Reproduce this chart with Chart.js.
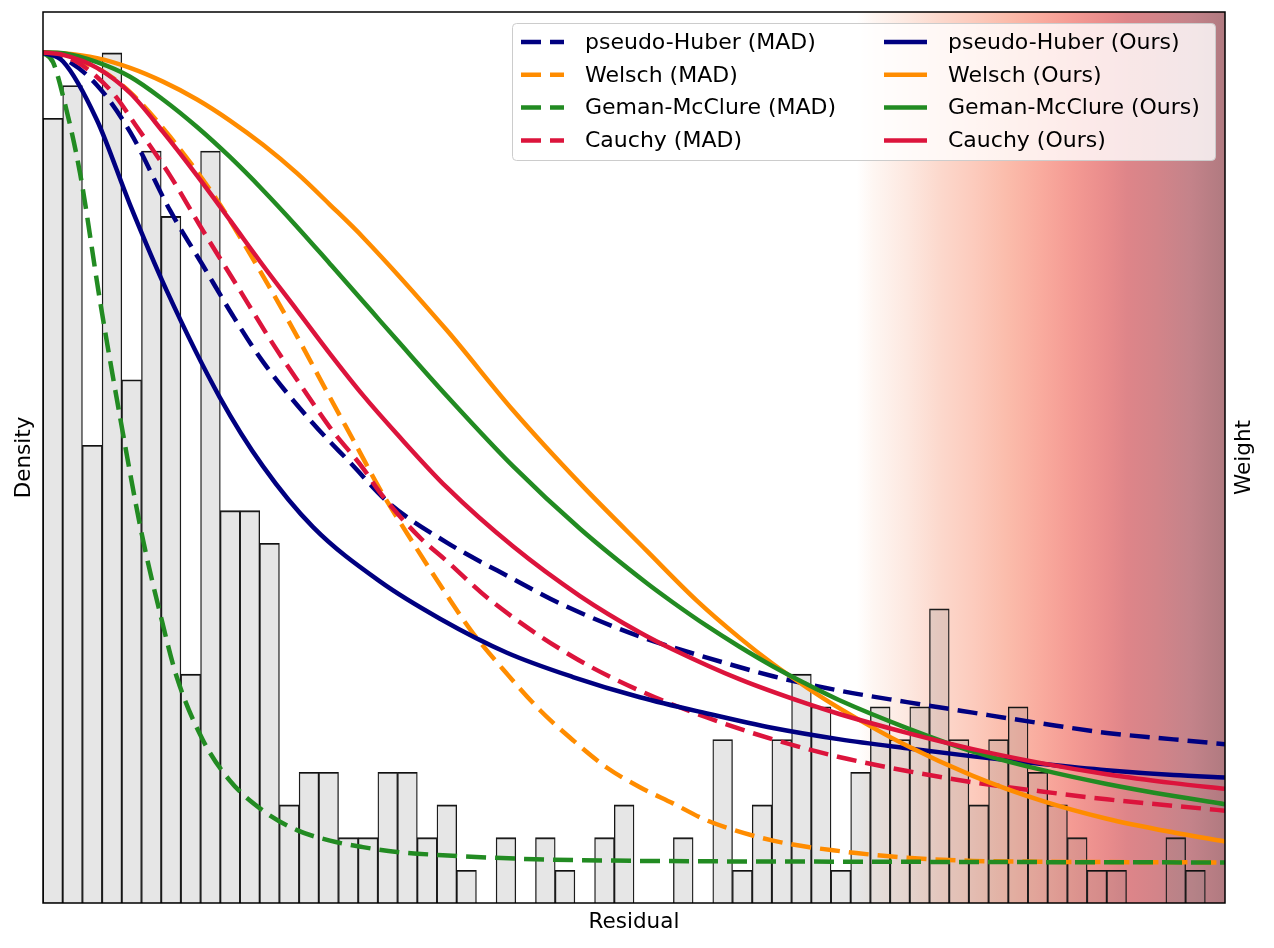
<!DOCTYPE html>
<html>
<head>
<meta charset="utf-8">
<title>Residual weights</title>
<script src="https://cdn.jsdelivr.net/npm/chart.js@4.4.1/dist/chart.umd.min.js"></script>
<style>
  html, body { margin: 0; padding: 0; background: #fff; }
  canvas { display: block; }
</style>
</head>
<body>
<canvas id="weightChart" width="1274" height="948"></canvas>
<script>
// ----------- Histogram: counts per residual bin (60 bins) -----------
const binCounts = [
  24, 25, 14, 26, 16, 23, 21, 7, 23, 12,
  12, 11, 3, 4, 4, 2, 2, 4, 4, 2,
  3, 1, 0, 2, 0, 2, 1, 0, 2, 3,
  0, 0, 2, 0, 5, 1, 3, 5, 7, 6,
  1, 4, 6, 5, 6, 9, 5, 3, 5, 6,
  4, 3, 2, 1, 1, 0, 0, 2, 1, 0
];

// ----------- Weight curves (residual in bin units, weight) -----------
const phMadR = [0, 1.02, 2.73, 4.42, 6.45, 8.12, 9.64, 11.17, 13.71, 15.58, 17.6, 20.5, 23.87, 26.4, 30.3, 33.7, 37.06, 40.46, 43.86, 47.2, 50.6, 54, 57.4, 60];
const phMadW = [1, 0.993, 0.96, 0.902, 0.805, 0.737, 0.675, 0.618, 0.542, 0.494, 0.443, 0.395, 0.35, 0.318, 0.279, 0.253, 0.23, 0.212, 0.198, 0.185, 0.172, 0.16, 0.152, 0.146];

const wMadR = [0, 2.73, 4.42, 6.45, 8.83, 10.15, 11.88, 13.2, 14.57, 15.94, 17.1, 18.8, 20.5, 21.83, 23.55, 25.23, 26.9, 28.63, 30.3, 31.98, 33.7, 37.06, 40.46, 43.86, 47.2, 50.6, 60];
const wMadW = [1, 0.981, 0.951, 0.896, 0.818, 0.766, 0.694, 0.636, 0.574, 0.513, 0.461, 0.394, 0.33, 0.283, 0.233, 0.188, 0.151, 0.117, 0.093, 0.073, 0.052, 0.027, 0.014, 0.006, 0.002, 0.001, 0];

const gmMadR = [0, 0.51, 1.03, 1.88, 2.89, 3.91, 5.01, 6.03, 6.79, 8.12, 9.49, 11.17, 12.89, 14.57, 16.24, 17.97, 20.3, 25, 30.3, 41.3, 60];
const gmMadW = [1, 0.988, 0.945, 0.851, 0.694, 0.55, 0.406, 0.299, 0.229, 0.151, 0.101, 0.064, 0.04, 0.027, 0.019, 0.013, 0.009, 0.004, 0.002, 0.001, 0];

const cMadR = [0, 1, 1.88, 3.55, 4.77, 6.45, 8.12, 9.85, 11.68, 13.2, 14.57, 16.24, 17.1, 19.1, 20.5, 22.7, 26.9, 30.3, 33.7, 37.06, 40.46, 43.86, 47.2, 50.6, 54, 57.4, 60];
const cMadW = [1, 0.996, 0.986, 0.95, 0.908, 0.848, 0.78, 0.712, 0.64, 0.585, 0.537, 0.487, 0.457, 0.402, 0.372, 0.324, 0.254, 0.212, 0.179, 0.152, 0.13, 0.113, 0.099, 0.088, 0.078, 0.07, 0.064];

const phOursR = [0, 1.02, 2.73, 4.42, 6.28, 8.98, 11.17, 13.71, 17.1, 20.15, 23.55, 26.9, 30.3, 33.7, 37.06, 40.46, 43.86, 47.2, 50.6, 54, 57.4, 60];
const phOursW = [1, 0.989, 0.917, 0.812, 0.706, 0.574, 0.489, 0.414, 0.347, 0.301, 0.259, 0.229, 0.204, 0.184, 0.166, 0.152, 0.141, 0.131, 0.122, 0.114, 0.108, 0.105];

const wOursR = [0, 1.02, 2.74, 4.42, 6.09, 7.82, 9.49, 11.17, 12.89, 14.57, 16.24, 20.5, 23.87, 27.26, 30.64, 33.2, 35.38, 37.06, 38.78, 40.46, 43.86, 47.2, 50.6, 54, 57.4, 60];
const wOursW = [1, 0.999, 0.993, 0.981, 0.964, 0.942, 0.916, 0.886, 0.851, 0.812, 0.772, 0.657, 0.558, 0.468, 0.385, 0.323, 0.277, 0.245, 0.216, 0.19, 0.144, 0.107, 0.077, 0.054, 0.037, 0.026];

const gmOursR = [0, 1.02, 2.74, 4.42, 6.09, 7.82, 9.49, 11.17, 12.89, 14.57, 16.24, 17.1, 17.97, 20.5, 23.87, 27.26, 30.64, 31.98, 33.7, 35.38, 37.06, 38.78, 40.46, 43.86, 47.2, 50.6, 54, 57.4, 60];
const gmOursW = [1, 0.999, 0.988, 0.97, 0.942, 0.908, 0.871, 0.83, 0.785, 0.739, 0.693, 0.669, 0.645, 0.576, 0.489, 0.412, 0.345, 0.321, 0.292, 0.266, 0.242, 0.22, 0.2, 0.166, 0.137, 0.115, 0.097, 0.082, 0.072];

const cOursR = [0, 1.02, 2.74, 4.42, 6.09, 7.82, 9.49, 11.17, 12.89, 14.57, 16.24, 17.97, 20.5, 23.87, 27.26, 30.3, 31.98, 35.38, 38.78, 40.46, 43.86, 47.2, 50.6, 54, 57.4, 60];
const cOursW = [1, 0.997, 0.981, 0.95, 0.902, 0.848, 0.793, 0.737, 0.682, 0.628, 0.577, 0.529, 0.463, 0.39, 0.329, 0.284, 0.263, 0.226, 0.196, 0.183, 0.16, 0.14, 0.123, 0.109, 0.098, 0.091];

// plotting order = legend order (column by column)
const curves = [
  { label: 'pseudo-Huber (MAD)', r: phMadR, w: phMadW, color: '#000080', dashed: true },
  { label: 'Welsch (MAD)', r: wMadR, w: wMadW, color: '#ff8c00', dashed: true },
  { label: 'Geman-McClure (MAD)', r: gmMadR, w: gmMadW, color: '#228b22', dashed: true },
  { label: 'Cauchy (MAD)', r: cMadR, w: cMadW, color: '#dc143c', dashed: true },
  { label: 'pseudo-Huber (Ours)', r: phOursR, w: phOursW, color: '#000080', dashed: false },
  { label: 'Welsch (Ours)', r: wOursR, w: wOursW, color: '#ff8c00', dashed: false },
  { label: 'Geman-McClure (Ours)', r: gmOursR, w: gmOursW, color: '#228b22', dashed: false },
  { label: 'Cauchy (Ours)', r: cOursR, w: cOursW, color: '#dc143c', dashed: false }
];

const FONT = '"DejaVu Sans", "Liberation Sans", sans-serif';

// ----------- Shaded outlier region behind the bars -----------
const shadePlugin = {
  id: 'outlierShade',
  beforeDatasetsDraw(chart) {
    const { ctx, chartArea: a, scales } = chart;
    const x0 = scales.x.getPixelForValue(41.3);
    const g = ctx.createLinearGradient(x0, 0, a.right, 0);
    const stops = [
      [0, '#ffffff'], [0.046, '#fef6f2'], [0.138, '#fde8e0'], [0.228, '#fcd8cc'],
      [0.317, '#fccbbd'], [0.409, '#fbbcab'], [0.499, '#f9ab9e'], [0.588, '#f49a93'],
      [0.68, '#e98c8c'], [0.734, '#de8589'], [0.816, '#d38489'], [0.905, '#c4838a'],
      [1, '#b07a80']
    ];
    stops.forEach(s => g.addColorStop(s[0], s[1]));
    ctx.save();
    ctx.fillStyle = g;
    ctx.fillRect(x0, a.top, a.right - x0, a.bottom - a.top);
    ctx.restore();
  }
};

// ----------- Frame, axis titles and two-column legend -----------
const decorPlugin = {
  id: 'decor',
  afterDatasetsDraw(chart) {
    const { ctx, chartArea: a } = chart;
    ctx.save();
    ctx.strokeStyle = '#000';
    ctx.lineWidth = 1.5;
    ctx.strokeRect(a.left, a.top, a.right - a.left, a.bottom - a.top);

    ctx.fillStyle = '#000';
    ctx.font = '21.5px ' + FONT;
    ctx.textAlign = 'center';
    ctx.textBaseline = 'alphabetic';
    ctx.fillText('Residual', (a.left + a.right) / 2, 928);

    const midY = (a.top + a.bottom) / 2;
    [['Density', 30], ['Weight', 1250]].forEach(([txt, x]) => {
      ctx.save();
      ctx.translate(x, midY);
      ctx.rotate(-Math.PI / 2);
      ctx.fillText(txt, 0, 0);
      ctx.restore();
    });

    // legend box
    ctx.beginPath();
    if (ctx.roundRect) ctx.roundRect(512.5, 23.5, 703, 137, 4);
    else ctx.rect(512.5, 23.5, 703, 137);
    ctx.fillStyle = 'rgba(255,255,255,0.8)';
    ctx.fill();
    ctx.strokeStyle = '#cccccc';
    ctx.lineWidth = 1;
    ctx.stroke();

    const lines = chart.data.datasets.filter(d => d.type === 'line');
    ctx.font = '22px ' + FONT;
    ctx.textAlign = 'left';
    ctx.textBaseline = 'middle';
    lines.forEach((ds, i) => {
      const hx = i < 4 ? 521 : 884;
      const y = 42 + (i % 4) * 32.8;
      ctx.beginPath();
      ctx.setLineDash(ds.borderDash || []);
      ctx.strokeStyle = ds.borderColor;
      ctx.lineWidth = ds.borderWidth;
      ctx.moveTo(hx, y);
      ctx.lineTo(hx + 43, y);
      ctx.stroke();
      ctx.setLineDash([]);
      ctx.fillStyle = '#000';
      ctx.fillText(ds.label, hx + 64, y + 1);
    });
    ctx.restore();
  }
};

// ----------- Build datasets -----------
const barDataset = {
  type: 'bar',
  label: 'Residuals',
  data: binCounts.map((c, i) => ({ x: i + 0.5, y: c })),
  backgroundColor: 'rgba(128,128,128,0.2)',
  borderColor: '#111',
  borderWidth: { top: 1.2, left: 0.7, right: 0.7, bottom: 0 },
  borderSkipped: 'start',
  barPercentage: 1,
  categoryPercentage: 1,
  xAxisID: 'x',
  yAxisID: 'y',
  order: 100
};

const lineDatasets = curves.map((c, i) => ({
  type: 'line',
  label: c.label,
  data: c.r.map((r, k) => ({ x: r, y: c.w[k] })),
  borderColor: c.color,
  borderWidth: 4.5,
  borderDash: c.dashed ? [20, 9] : [],
  borderCapStyle: 'butt',
  pointRadius: 0,
  fill: false,
  cubicInterpolationMode: 'monotone',
  xAxisID: 'x',
  yAxisID: 'w',
  order: 20 - i
}));

new Chart(document.getElementById('weightChart').getContext('2d'), {
  type: 'bar',
  data: { datasets: [barDataset, ...lineDatasets] },
  options: {
    responsive: false,
    animation: false,
    devicePixelRatio: 1,
    layout: { padding: { left: 43, right: 49, top: 12, bottom: 45 } },
    plugins: {
      legend: { display: false },
      tooltip: { enabled: false }
    },
    scales: {
      x: { type: 'linear', min: 0, max: 60, offset: false, display: false },
      y: { type: 'linear', min: 0, max: 27.25, display: false },
      w: { type: 'linear', min: -0.05, max: 1.05, display: false, position: 'right' }
    }
  },
  plugins: [shadePlugin, decorPlugin]
});
</script>
</body>
</html>
